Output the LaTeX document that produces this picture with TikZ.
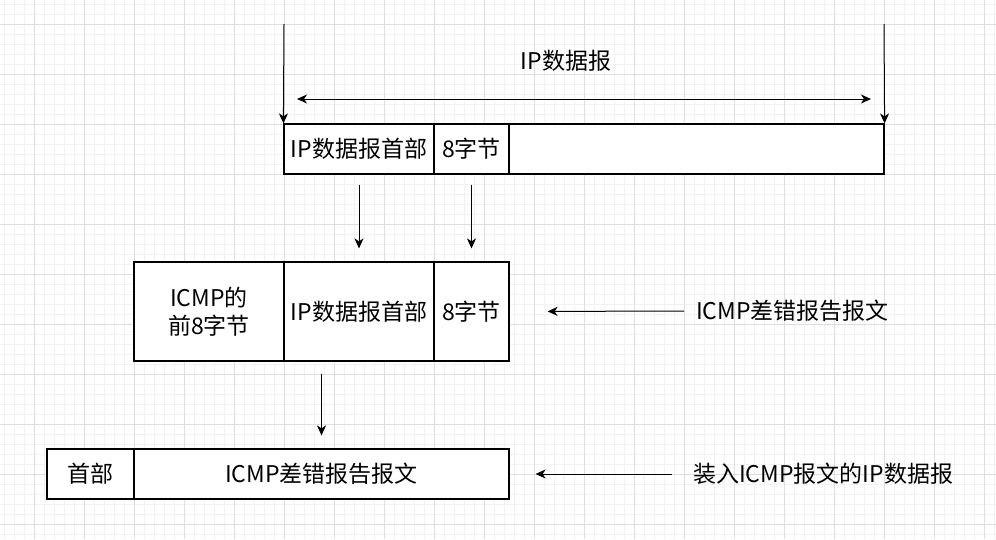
\documentclass[tikz,border=0pt]{standalone}
\usepackage{fontspec}
\setmainfont{Noto Sans CJK SC}
\usetikzlibrary{arrows.meta}
\definecolor{gridminor}{RGB}{242,242,242}
\definecolor{gridmajor}{RGB}{222,222,222}
\begin{document}
\begin{tikzpicture}[x=1pt,y=-1pt,
  cell/.style={draw=black, fill=white, line width=1.2pt, inner sep=0pt,
    font=\fontsize{23}{28}\selectfont, align=center},
  lbl/.style={inner sep=0pt, font=\fontsize{23}{28}\selectfont},
  arr/.style={-{Stealth[length=10pt,width=9pt,inset=3pt]}, line width=1pt},
  darr/.style={{Stealth[length=10pt,width=9pt,inset=3pt]}-{Stealth[length=10pt,width=9pt,inset=3pt]}, line width=1pt}]
\useasboundingbox (0,0) rectangle (996,539);
\fill[white] (0,0) rectangle (996,539);
% grid
\foreach \x in {4,14,...,994} \draw[gridminor, line width=1pt] (\x,0) -- (\x,539);
\foreach \y in {4,14,...,534} \draw[gridminor, line width=1pt] (0,\y) -- (996,\y);
\foreach \x in {34,84,...,984} \draw[gridmajor, line width=1pt] (\x,0) -- (\x,539);
\foreach \y in {24,74,...,524} \draw[gridmajor, line width=1pt] (0,\y) -- (996,\y);

% top row
\node[cell, minimum width=150pt, minimum height=50pt] (t1) at (359,149) {IP数据报首部};
\node[cell, minimum width=75pt, minimum height=50pt] (t2) at (471.5,149) {8字节};
\node[cell, minimum width=375pt, minimum height=50pt] (t3) at (696.5,149) {};

% middle row
\node[cell, minimum width=150pt, minimum height=99pt] (m1) at (209,311.5) {ICMP的\\前8字节};
\node[cell, minimum width=150pt, minimum height=99pt] (m2) at (359,311.5) {IP数据报首部};
\node[cell, minimum width=75pt, minimum height=99pt] (m3) at (471.5,311.5) {8字节};

% bottom row
\node[cell, minimum width=87pt, minimum height=50pt] (b1) at (90.5,474) {首部};
\node[cell, minimum width=375pt, minimum height=50pt] (b2) at (321.5,474) {ICMP差错报告报文};

% labels
\node[lbl] (ip) at (566,61) {IP数据报};
\node[lbl, anchor=west] (lab1) at (696,311) {ICMP差错报告报文};
\node[lbl, anchor=west] (lab2) at (693,474) {装入ICMP报文的IP数据报};

% top connectors
\coordinate (cL) at (284,24);
\coordinate (cR) at (884,24);
\coordinate (dL) at (284,99);
\coordinate (dR) at (884,99);
\draw[arr] (cL) -- (t1.north west);
\draw[arr] (cR) -- (t3.north east);
\draw[darr, shorten <=13pt, shorten >=13pt] (dL) -- (dR);

% between rows
\draw[arr, shorten <=10pt, shorten >=13pt] (t1.south) -- (m2.north);
\draw[arr, shorten <=10pt, shorten >=13pt] (t2.south) -- (m3.north);
\coordinate (mb) at (m2.south -| b2.north);
\draw[arr, shorten <=12pt, shorten >=13pt] (mb) -- (b2.north);

% side arrows
\draw[arr, shorten <=12pt, shorten >=38pt] (lab1.west) -- (m3.east);
\draw[arr, shorten <=21pt, shorten >=26pt] (lab2.west) -- (b2.east);
\end{tikzpicture}
\end{document}
